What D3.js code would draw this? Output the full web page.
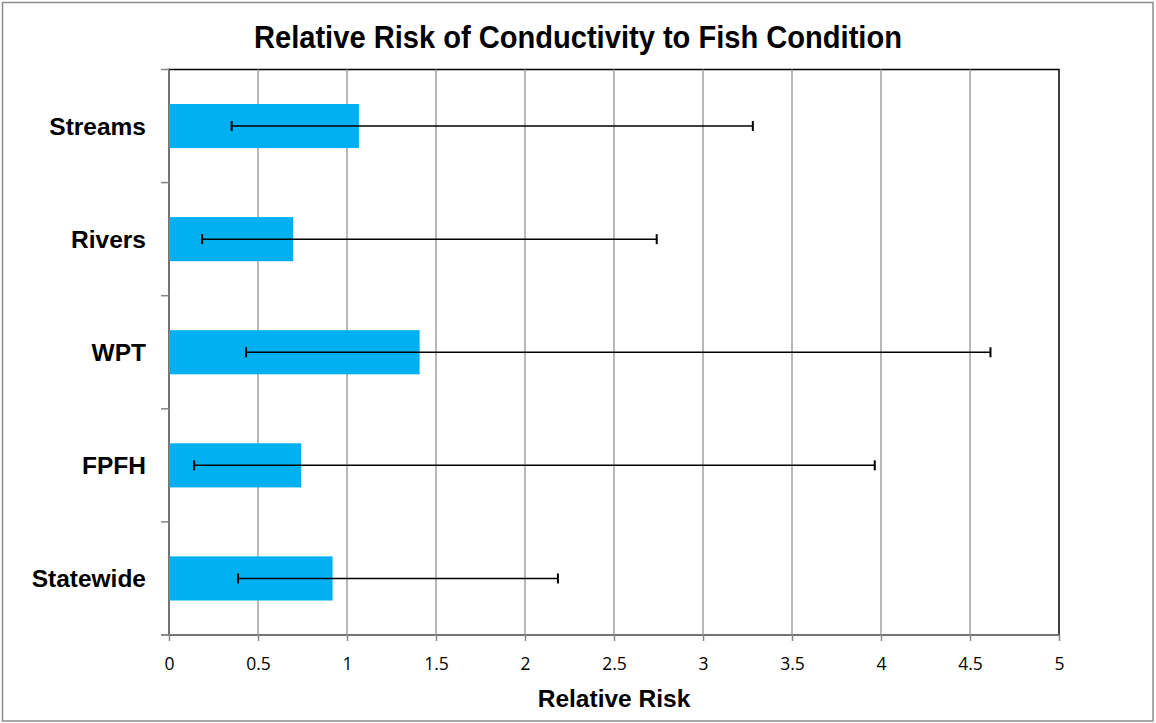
<!DOCTYPE html>
<html>
<head>
<meta charset="utf-8">
<script src="https://cdn.jsdelivr.net/npm/d3@7"></script>
<style>
  body { margin: 0; background: #fff; }
  svg { display: block; }
</style>
</head>
<body>
<div id="chart"></div>
<script>
// categories top to bottom
var categories = ["Streams", "Rivers", "WPT", "FPFH", "Statewide"];
var riskValues = [1.067, 0.698, 1.408, 0.743, 0.919];
var lowerCI = [0.352, 0.186, 0.433, 0.141, 0.388];
var upperCI = [3.28, 2.74, 4.615, 3.965, 2.185];
var xTicks = [0, 0.5, 1, 1.5, 2, 2.5, 3, 3.5, 4, 4.5, 5];

var W = 1156, H = 723;
var margin = {top: 69.5, right: 97, bottom: 88, left: 169},
    width = W - margin.left - margin.right,
    height = H - margin.top - margin.bottom;

var svg = d3.select("#chart")
  .append("svg")
    .attr("width", W)
    .attr("height", H);

// outer chart frame
svg.append("rect")
  .attr("x", 2.5).attr("y", 2.5)
  .attr("width", W - 5.5).attr("height", H - 4.5)
  .attr("fill", "none")
  .attr("stroke", "#8c8c8c")
  .attr("stroke-width", 1.5);

// title
svg.append("text")
  .attr("x", W / 2)
  .attr("y", 48)
  .attr("text-anchor", "middle")
  .style("font-family", "'Liberation Sans', Arial, sans-serif")
  .style("font-weight", "bold")
  .style("font-size", "31px")
  .attr("textLength", 648)
  .attr("lengthAdjust", "spacingAndGlyphs")
  .text("Relative Risk of Conductivity to Fish Condition");

var g = svg.append("g")
  .attr("transform", "translate(" + margin.left + "," + margin.top + ")");

var x = d3.scaleLinear()
  .domain([0, 5])
  .range([0, width]);

var y = d3.scaleBand()
  .domain(categories)
  .range([0, height])
  .paddingInner(0.61)
  .paddingOuter(0.305);

// plot area border (top/right black)
g.append("rect")
  .attr("width", width)
  .attr("height", height)
  .attr("fill", "none")
  .attr("stroke", "#000")
  .attr("stroke-width", 1.5);

// vertical gridlines
g.append("g")
  .selectAll("line")
  .data(xTicks.slice(1, -1))
  .join("line")
    .attr("x1", function(d) { return x(d); })
    .attr("x2", function(d) { return x(d); })
    .attr("y1", 0)
    .attr("y2", height)
    .attr("stroke", "#a0a0a0")
    .attr("stroke-width", 1.5);

// bars
g.append("g")
  .selectAll("rect")
  .data(categories)
  .join("rect")
    .attr("x", x(0))
    .attr("y", function(d) { return y(d); })
    .attr("width", function(d, i) { return x(riskValues[i]) - x(0); })
    .attr("height", y.bandwidth())
    .attr("fill", "#00b0f0");

// error bars
var eb = g.append("g")
  .selectAll("g")
  .data(categories)
  .join("g")
    .attr("transform", function(d) { return "translate(0," + (y(d) + y.bandwidth() / 2) + ")"; });

eb.append("line")
  .attr("x1", function(d, i) { return x(lowerCI[i]); })
  .attr("x2", function(d, i) { return x(upperCI[i]); })
  .attr("stroke", "#000")
  .attr("stroke-width", 1.5);

eb.append("line")
  .attr("x1", function(d, i) { return x(lowerCI[i]); })
  .attr("x2", function(d, i) { return x(lowerCI[i]); })
  .attr("y1", -5).attr("y2", 5)
  .attr("stroke", "#000")
  .attr("stroke-width", 2);

eb.append("line")
  .attr("x1", function(d, i) { return x(upperCI[i]); })
  .attr("x2", function(d, i) { return x(upperCI[i]); })
  .attr("y1", -5).attr("y2", 5)
  .attr("stroke", "#000")
  .attr("stroke-width", 2);

// x axis
var xAxis = g.append("g")
  .attr("transform", "translate(0," + height + ")")
  .call(d3.axisBottom(x)
    .tickValues(xTicks)
    .tickFormat(d3.format("~g"))
    .tickSize(6)
    .tickPadding(17));
xAxis.select(".domain")
  .attr("stroke", "#868686")
  .attr("stroke-width", 1.5)
  .attr("d", "M-8,0H" + width);
xAxis.selectAll(".tick line")
  .attr("stroke", "#868686")
  .attr("stroke-width", 1.5);
xAxis.selectAll(".tick text")
  .style("font-family", "'Open Sans', Calibri, sans-serif")
  .style("font-size", "17.5px")
  .attr("fill", "#000");

// y axis: ticks at category boundaries
var bounds = d3.range(categories.length + 1).map(function(i) { return i * height / categories.length; });
g.append("line")
  .attr("x1", 0).attr("x2", 0)
  .attr("y1", 0).attr("y2", height)
  .attr("stroke", "#868686")
  .attr("stroke-width", 1.5);
g.append("g")
  .selectAll("line")
  .data(bounds)
  .join("line")
    .attr("x1", -8).attr("x2", 0)
    .attr("y1", function(d) { return d; })
    .attr("y2", function(d) { return d; })
    .attr("stroke", "#868686")
    .attr("stroke-width", 1.5);

g.append("g")
  .selectAll("text")
  .data(categories)
  .join("text")
    .attr("x", -23)
    .attr("y", function(d) { return y(d) + y.bandwidth() / 2; })
    .attr("dy", "0.36em")
    .attr("text-anchor", "end")
    .style("font-family", "'Liberation Sans', Arial, sans-serif")
    .style("font-weight", "bold")
    .style("font-size", "24.5px")
    .text(function(d) { return d; });

// x axis title
svg.append("text")
  .attr("x", margin.left + width / 2)
  .attr("y", 707)
  .attr("text-anchor", "middle")
  .style("font-family", "'Liberation Sans', Arial, sans-serif")
  .style("font-weight", "bold")
  .style("font-size", "24.5px")
  .text("Relative Risk");
</script>
</body>
</html>
